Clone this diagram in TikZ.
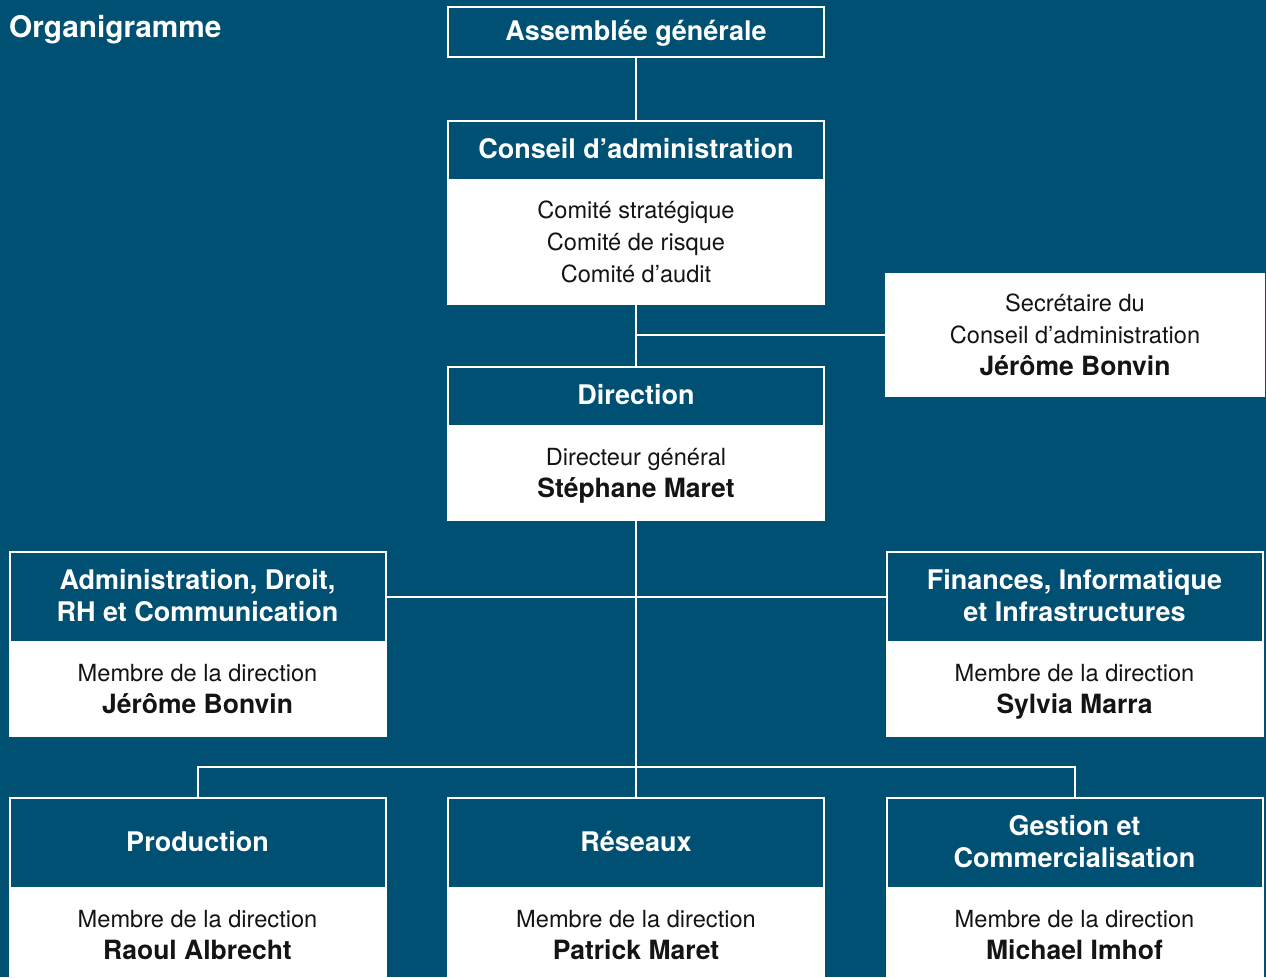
\documentclass[tikz,border=0pt]{standalone}
\usepackage{fontspec}
\setmainfont{TeX Gyre Heros}
\definecolor{bg}{RGB}{0,80,115}
\definecolor{ink}{RGB}{20,20,20}
\newcommand\st{\rule[-8pt]{0pt}{32pt}}
\newcommand\nm[1]{{\fontsize{26.5}{32}\selectfont\bfseries #1}}
\begin{document}
\begin{tikzpicture}[x=1pt,y=-1pt,
  hdr/.style={draw=white, line width=2pt, fill=bg, text=white, font=\fontsize{27}{32}\selectfont\bfseries, align=center, minimum width=376pt, inner sep=0pt},
  bdy/.style={draw=white, line width=2pt, fill=white, text=ink, font=\fontsize{23.6}{32}\selectfont, align=center, minimum width=376pt, inner sep=0pt},
  link/.style={draw=white, line width=2pt}]
\useasboundingbox (0,0) rectangle (1266,977);
\clip (0,0) rectangle (1266,977);
\fill[bg] (0,0) rectangle (1266,977);

\node[anchor=base west, text=white, font=\fontsize{29.8}{32}\selectfont\bfseries, inner sep=0pt] (title) at (9,37.5) {Organigramme};

\node[hdr, minimum height=50pt] (ag) at (636,32) {\st Assemblée générale};

\node[bdy, minimum height=124pt] (cab) at (636,242) {\st Comité stratégique\\\st Comité de risque\\\st Comité d’audit};
\node[hdr, minimum height=59pt] (cah) at (636,150.5) {\st Conseil d’administration};

\node[bdy, minimum width=378pt, minimum height=122pt] (sec) at (1075,335) {\st Secrétaire du\\\st Conseil d’administration\\\st\nm{Jérôme Bonvin}};

\node[bdy, minimum height=94pt] (dirb) at (636,473) {\st Directeur général\\\st\nm{Stéphane Maret}};
\node[hdr, minimum height=59pt] (dirh) at (636,396.5) {\st Direction};

\node[bdy, minimum height=94pt] (admb) at (197.5,689) {\st Membre de la direction\\\st\nm{Jérôme Bonvin}};
\node[hdr, minimum height=90pt] (admh) at (197.5,597) {\st Administration, Droit,\\\st RH et Communication};

\node[bdy, minimum height=94pt] (finb) at (1074.5,689) {\st Membre de la direction\\\st\nm{Sylvia Marra}};
\node[hdr, minimum height=90pt] (finh) at (1074.5,597) {\st Finances, Informatique\\\st et Infrastructures};

\node[bdy, minimum height=94pt] (prodb) at (197.5,935) {\st Membre de la direction\\\st\nm{Raoul Albrecht}};
\node[hdr, minimum height=90pt] (prodh) at (197.5,843) {\st Production};

\node[bdy, minimum height=94pt] (resb) at (636,935) {\st Membre de la direction\\\st\nm{Patrick Maret}};
\node[hdr, minimum height=90pt] (resh) at (636,843) {\st Réseaux};

\node[bdy, minimum height=94pt] (gesb) at (1074.5,935) {\st Membre de la direction\\\st\nm{Michael Imhof}};
\node[hdr, minimum height=90pt] (gesh) at (1074.5,843) {\st Gestion et\\\st Commercialisation};

\coordinate (bus) at (636,767);
\draw[link] (ag.south) -- (cah.north);
\draw[link] (cab.south) -- (dirh.north);
\draw[link] (sec.west) -- (sec.west -| cab.south);
\draw[link] (dirb.south) -- (resh.north);
\draw[link] (admh.east) -- (finh.west);
\draw[link] (prodh.north) |- (bus) -| (gesh.north);
\end{tikzpicture}
\end{document}
